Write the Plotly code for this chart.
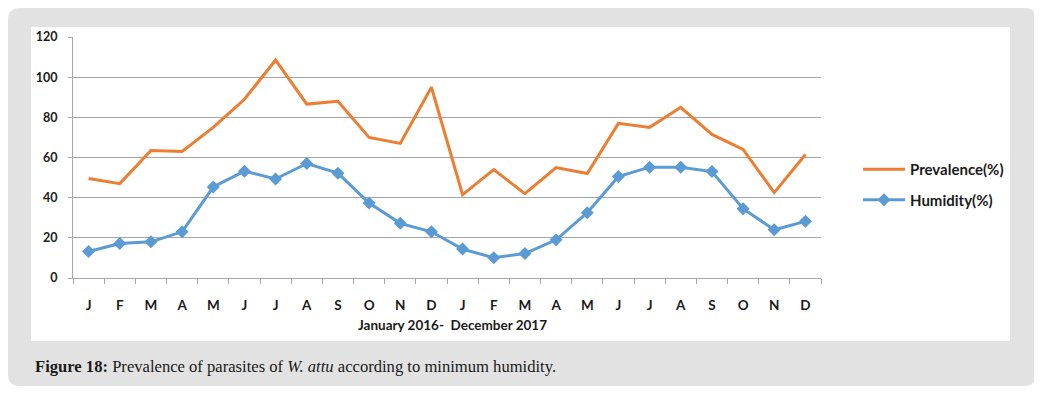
import plotly.graph_objects as go

months = ["J", "F", "M", "A", "M", "J", "J", "A", "S", "O", "N", "D",
          "J", "F", "M", "A", "M", "J", "J", "A", "S", "O", "N", "D"]
prevalence = [49.5, 47, 63.5, 63, 75, 89, 108.5, 86.6, 88, 70, 67, 95,
              41.5, 54, 42, 55, 52, 77, 75, 85, 71.5, 64, 42.5, 61.5]
humidity = [13.2, 17.2, 18, 23, 45.3, 53.2, 49.3, 57, 52.2, 37.3, 27.2, 23,
            14.4, 10.1, 12.2, 19, 32.5, 50.5, 55.2, 55.2, 53, 34.5, 24, 28.2]
yticks = [0, 20, 40, 60, 80, 100, 120]

OFF = 8  # page body margin
W, H = 1042 - OFF, 393 - OFF
L, R, T, B = 73 - OFF, 821 - OFF, 37 - OFF, 278 - OFF  # plot area in figure pixels

def px(x):
    return (x - OFF - L) / (R - L)

def py(y):
    return (B - (y - OFF)) / (B - T)

x_idx = list(range(len(months)))

fig = go.Figure()
fig.add_trace(go.Scatter(
    x=x_idx, y=prevalence, name="Prevalence(%)", mode="lines",
    line=dict(color="#ED7D31", width=3), legendgroup="a"))
fig.add_trace(go.Scatter(
    x=x_idx, y=humidity, name="Humidity(%)", mode="lines+markers",
    line=dict(color="#5B9BD5", width=3),
    marker=dict(symbol="diamond", size=10, color="#5B9BD5"), legendgroup="b"))

# rounded gray frame (page pixel coords)
r = 12
x0, x1, y0, y1 = 8, 1036, 8, 386
def pt(x, y):
    return f"{px(x):.5f},{py(y):.5f}"
path = (f"M {pt(x0 + r, y0)} L {pt(x1 - r, y0)} Q {pt(x1, y0)} {pt(x1, y0 + r)} "
        f"L {pt(x1, y1 - r)} Q {pt(x1, y1)} {pt(x1 - r, y1)} "
        f"L {pt(x0 + r, y1)} Q {pt(x0, y1)} {pt(x0, y1 - r)} "
        f"L {pt(x0, y0 + r)} Q {pt(x0, y0)} {pt(x0 + r, y0)} Z")
fig.add_shape(type="path", path=path, xref="paper", yref="paper",
              fillcolor="#e2e2e2", line=dict(width=0), layer="below")
fig.add_shape(type="rect", xref="paper", yref="paper",
              x0=px(31), x1=px(1010), y0=py(27), y1=py(341),
              fillcolor="white", line=dict(width=0), layer="below")

fig.add_annotation(
    text="January 2016-  December 2017", xref="paper", yref="paper",
    x=px(452), y=py(325), xanchor="center", yanchor="middle", showarrow=False,
    font=dict(family="Lato", size=13.5, color="#1a1a1a", weight="bold"))
fig.add_annotation(
    text="<b>Figure 18:</b> Prevalence of parasites of <i>W. attu</i> according to minimum humidity.",
    xref="paper", yref="paper", x=px(33), y=py(366), xanchor="left", yanchor="middle",
    showarrow=False, font=dict(family="Liberation Serif", size=16.6, color="#1a1a1a"))

fig.update_layout(
    width=W, height=H,
    margin=dict(l=L, r=W - R, t=T, b=H - B, pad=0),
    paper_bgcolor="white", plot_bgcolor="white",
    showlegend=True,
    legend=dict(x=px(858), y=py(153), xanchor="left", yanchor="top",
                bgcolor="rgba(0,0,0,0)", tracegroupgap=8, itemwidth=42,
                font=dict(family="Lato", size=15, color="#1a1a1a", weight="bold")),
    xaxis=dict(
        range=[-0.5, len(months) - 0.5], tickmode="array", tickvals=x_idx, ticktext=months,
        ticks="", showgrid=False, showline=True, linecolor="#a6a6a6", linewidth=1,
        zeroline=False, ticklabelstandoff=15,
        tickfont=dict(family="Lato", size=13.5, color="#1a1a1a", weight="bold"),
        minor=dict(tickmode="array", tickvals=[i - 0.5 for i in range(len(months) + 1)],
                   ticks="outside", ticklen=5, tickcolor="#a6a6a6", showgrid=False)),
    yaxis=dict(
        range=[0, 120], tickmode="array", tickvals=yticks,
        ticks="outside", ticklen=4, tickcolor="#a6a6a6",
        showgrid=True, gridcolor="#a6a6a6", gridwidth=1,
        showline=True, linecolor="#a6a6a6", linewidth=1, zeroline=False,
        ticklabelstandoff=8,
        tickfont=dict(family="Lato", size=12.5, color="#1a1a1a", weight="bold")),
)

fig.write_html("out.html")
